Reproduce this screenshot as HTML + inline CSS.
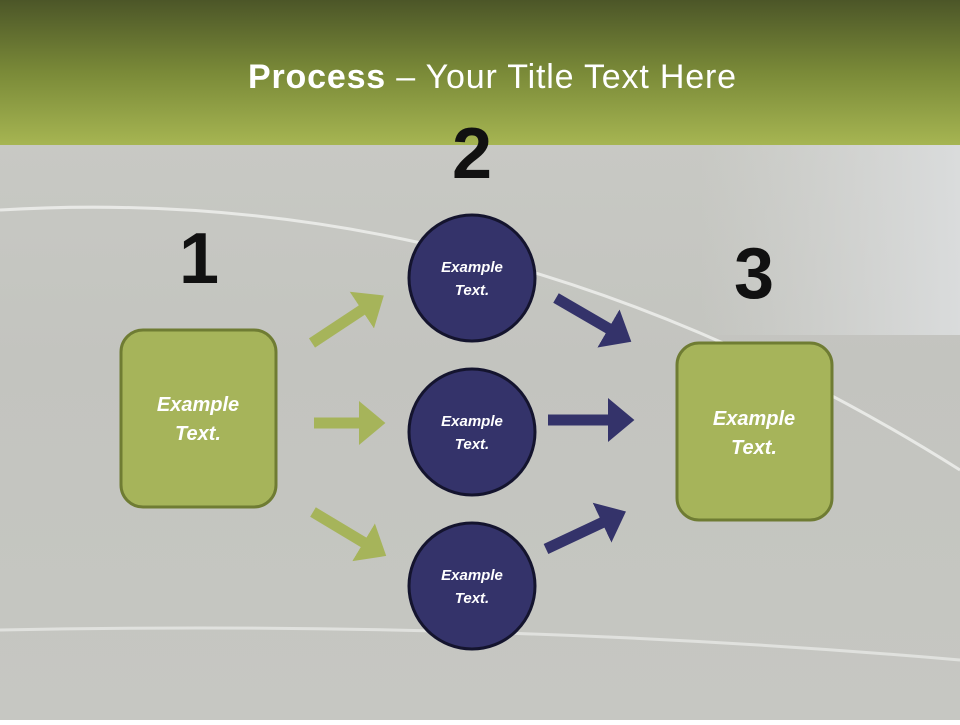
<!DOCTYPE html>
<html><head><meta charset="utf-8"><style>
body{margin:0;width:960px;height:720px;overflow:hidden;font-family:"Liberation Sans","DejaVu Sans",sans-serif}
</style></head><body>
<svg width="960" height="720" xmlns="http://www.w3.org/2000/svg">
<defs>
<linearGradient id="hd" x1="0" y1="0" x2="0" y2="1"><stop offset="0" stop-color="#4c5628"/><stop offset="0.5" stop-color="#7a8a38"/><stop offset="1" stop-color="#a6b552"/></linearGradient>
<linearGradient id="bg" x1="0" y1="0" x2="0" y2="1"><stop offset="0" stop-color="#cbccc7"/><stop offset="0.5" stop-color="#c3c4bf"/><stop offset="1" stop-color="#c6c7c2"/></linearGradient>
<linearGradient id="rt" x1="0" y1="0" x2="1" y2="0"><stop offset="0" stop-color="#d8d9d8" stop-opacity="0"/><stop offset="1" stop-color="#dcdedf" stop-opacity="0.9"/></linearGradient>
<marker id="mg" markerWidth="4" markerHeight="4" refX="1" refY="2" orient="auto" markerUnits="strokeWidth"><path d="M0,0 L2.4,2 L0,4 z" fill="#a6b45a"/></marker>
<marker id="mn" markerWidth="4" markerHeight="4" refX="1" refY="2" orient="auto" markerUnits="strokeWidth"><path d="M0,0 L2.4,2 L0,4 z" fill="#34336a"/></marker>
</defs>
<rect width="960" height="720" fill="url(#bg)"/>
<rect x="700" y="145" width="260" height="190" fill="url(#rt)"/>
<path d="M0,210 Q500,180 960,470" stroke="#e8e9e6" stroke-width="3" fill="none"/>
<path d="M0,630 Q500,620 960,660" stroke="#e0e1de" stroke-width="3" fill="none"/>
<rect x="0" y="0" width="960" height="145" fill="url(#hd)"/>
<text x="492" y="88" text-anchor="middle" font-size="34" fill="#fff" textLength="488"><tspan font-weight="bold">Process</tspan> – Your Title Text Here</text>
<text x="472" y="178" text-anchor="middle" font-size="72" font-weight="bold" fill="#111">2</text>
<text x="199" y="283" text-anchor="middle" font-size="72" font-weight="bold" fill="#111">1</text>
<text x="754" y="298" text-anchor="middle" font-size="72" font-weight="bold" fill="#111">3</text>
<g stroke-width="11" fill="none">
<line x1="312" y1="343" x2="371" y2="304" stroke="#a6b45a" marker-end="url(#mg)"/>
<line x1="314" y1="423" x2="370" y2="423" stroke="#a6b45a" marker-end="url(#mg)"/>
<line x1="313" y1="512" x2="373" y2="548" stroke="#a6b45a" marker-end="url(#mg)"/>
<line x1="556" y1="298" x2="618" y2="334" stroke="#34336a" marker-end="url(#mn)"/>
<line x1="548" y1="420" x2="619" y2="420" stroke="#34336a" marker-end="url(#mn)"/>
<line x1="546" y1="549" x2="612" y2="518" stroke="#34336a" marker-end="url(#mn)"/>
</g>
<rect x="121" y="330" width="155" height="177" rx="22" fill="#a6b45a" stroke="#6f7c33" stroke-width="3"/>
<rect x="677" y="343" width="155" height="177" rx="22" fill="#a6b45a" stroke="#6f7c33" stroke-width="3"/>
<g font-style="italic" font-weight="bold" fill="#fff" text-anchor="middle">
<text x="198" y="411" font-size="20">Example</text><text x="198" y="440" font-size="20">Text.</text>
<text x="754" y="425" font-size="20">Example</text><text x="754" y="454" font-size="20">Text.</text>
</g>
<g fill="#34336a" stroke="#14142e" stroke-width="3">
<circle cx="472" cy="278" r="63"/><circle cx="472" cy="432" r="63"/><circle cx="472" cy="586" r="63"/>
</g>
<g font-style="italic" font-weight="bold" fill="#fff" text-anchor="middle" font-size="15">
<text x="472" y="272">Example</text><text x="472" y="295">Text.</text>
<text x="472" y="426">Example</text><text x="472" y="449">Text.</text>
<text x="472" y="580">Example</text><text x="472" y="603">Text.</text>
</g>
</svg>
</body></html>
